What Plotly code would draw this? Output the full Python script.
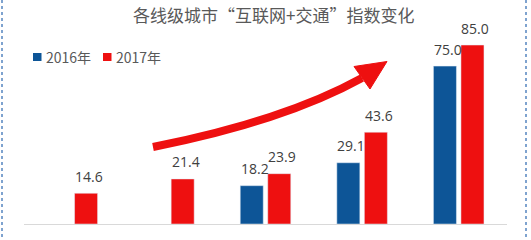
import plotly.graph_objects as go

categories = ["五线城市", "四线城市", "三线城市", "二线城市", "一线城市"]
series_names = ["2016年", "2017年"]
values_2016 = [None, None, 18.2, 29.1, 75.0]
values_2017 = [14.6, 21.4, 23.9, 43.6, 85.0]
title_text = "各线级城市\u201c互联网+交通\u201d指数变化"

BLUE = "#0D5597"
RED = "#EE1010"
TXT = "#595959"
LBL = "#404040"

W, H = 531, 240
ML, MR, MT, MB = 24, 24, 20, 16
PW = W - ML - MR
PH = H - MT - MB
YMAX = 96.9

def px2x(px):
    return (px - ML) / PW * 5 - 0.5

def px2y(py):
    return (H - MB - py) / PH * YMAX

def ppx(px):
    return (px - ML) / PW

def ppy(py):
    return (H - MB - py) / PH

fig = go.Figure()
fig.add_trace(go.Bar(x=categories, y=values_2016, name=series_names[0],
                     marker_color=BLUE, showlegend=False))
fig.add_trace(go.Bar(x=categories, y=values_2017, name=series_names[1],
                     marker_color=RED, showlegend=False))

bargap = 0.43
slot = (1 - bargap) / 2
annotations = []
for i in range(len(categories)):
    for k, vals in enumerate([values_2016, values_2017]):
        v = vals[i]
        if v is None:
            continue
        xc = i + (k - 0.5) * slot
        annotations.append(dict(x=xc, y=v, xref="x", yref="y", text=f"{v:.1f}",
                                showarrow=False, yanchor="middle", yshift=17, xshift=3,
                                font=dict(size=14, color=LBL, family="Open Sans, DejaVu Sans")))

# title
annotations.append(dict(x=ppx(273), y=ppy(1), xref="paper", yref="paper", text=title_text,
                        showarrow=False, xanchor="center", yanchor="top", borderpad=0,
                        font=dict(size=17, color=TXT, family="Noto Sans CJK SC")))

shapes = []
# manual legend
leg = [(33, 43.5, BLUE, series_names[0]), (103, 113.5, RED, series_names[1])]
for sx, tx, col, name in leg:
    shapes.append(dict(type="rect", xref="paper", yref="paper",
                       x0=ppx(sx), x1=ppx(sx + 8.5), y0=ppy(61), y1=ppy(53),
                       fillcolor=col, line=dict(width=0)))
    annotations.append(dict(x=ppx(tx), y=ppy(56.5), xref="paper", yref="paper", text=name,
                            showarrow=False, xanchor="left", yanchor="middle",
                            font=dict(size=14, color=TXT, family="Noto Sans CJK SC")))

# curved arrow
p0 = (153, 147); c = (284, 121); p2 = (362, 78)
path = (f"M {px2x(p0[0])},{px2y(p0[1])} Q {px2x(c[0])},{px2y(c[1])} "
        f"{px2x(p2[0])},{px2y(p2[1])}")
shapes.append(dict(type="path", xref="x", yref="y", path=path,
                   line=dict(color=RED, width=8)))
head = [(387, 61.5), (354, 66.5), (370, 89)]
hpath = "M " + " L ".join(f"{px2x(a)},{px2y(b)}" for a, b in head) + " Z"
shapes.append(dict(type="path", xref="x", yref="y", path=hpath,
                   fillcolor=RED, line=dict(color=RED, width=1)))

# dotted border
for bx in (2, 526):
    shapes.append(dict(type="line", xref="paper", yref="paper",
                       x0=ppx(bx), x1=ppx(bx), y0=ppy(0), y1=ppy(240),
                       line=dict(color="#7FA3CF", width=2, dash="dot")))

fig.update_layout(
    width=W, height=H,
    margin=dict(l=ML, r=MR, t=MT, b=MB),
    paper_bgcolor="white", plot_bgcolor="white",
    barmode="group", bargap=bargap, bargroupgap=0.164,
    xaxis=dict(showticklabels=False, showline=True, linecolor="#D9D9D9", linewidth=1,
               ticks="", showgrid=False, zeroline=False),
    yaxis=dict(range=[0, YMAX], visible=False, showgrid=False, zeroline=False),
    annotations=annotations,
    shapes=shapes,
    showlegend=False,
)

fig.write_html("out.html")
